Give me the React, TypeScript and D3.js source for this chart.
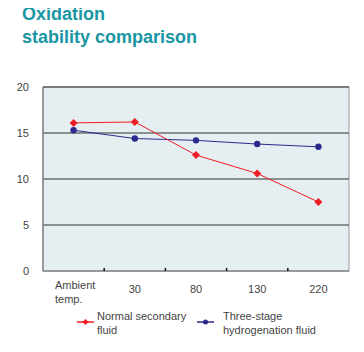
import React, { useRef, useEffect } from "react";
import * as d3 from "d3";

const categories = ["Ambient temp.", "30", "80", "130", "220"];
const normalFluid = [16.1, 16.2, 12.6, 10.6, 7.5];
const threeStageFluid = [15.3, 14.4, 14.2, 13.8, 13.5];
const yTicks = [0, 5, 10, 15, 20];

// square diamond (rotated square) path of half-diagonal r
const diamondPath = (r: number) => `M0,${-r}L${r},0L0,${r}L${-r},0Z`;

const App = () => {
  const ref = useRef<HTMLDivElement>(null);

  useEffect(() => {
    const width = 364;
    const height = 352;
    const left = 43;
    const right = 349;
    const top = 87;
    const bottom = 271;

    const root = d3.select(ref.current);
    root.selectAll("*").remove();
    const svg = root
      .append("svg")
      .attr("width", width)
      .attr("height", height)
      .style("display", "block")
      .style("font-family", "Arial, 'Liberation Sans', sans-serif");

    svg
      .append("text")
      .attr("x", 22)
      .attr("y", 20)
      .attr("fill", "#1996a4")
      .attr("font-size", 18)
      .attr("font-weight", "bold")
      .text("Oxidation");
    svg
      .append("text")
      .attr("x", 22)
      .attr("y", 43)
      .attr("fill", "#1996a4")
      .attr("font-size", 18)
      .attr("font-weight", "bold")
      .text("stability comparison");

    const x = d3.scaleBand().domain(categories).range([left, right]);
    const y = d3.scaleLinear().domain([0, 20]).range([bottom, top]);
    const cx = (i: number) => x(categories[i])! + x.bandwidth() / 2;

    svg
      .append("rect")
      .attr("x", left)
      .attr("y", top)
      .attr("width", right - left)
      .attr("height", bottom - top)
      .attr("fill", "#e5eef0")
      .attr("stroke", "#999")
      .attr("stroke-width", 1);

    svg
      .selectAll("line.grid")
      .data(yTicks.filter((t) => t > 0))
      .enter()
      .append("line")
      .attr("x1", left)
      .attr("x2", right)
      .attr("y1", (d) => y(d))
      .attr("y2", (d) => y(d))
      .attr("stroke", "#333")
      .attr("stroke-width", 1.2);

    // axes
    svg
      .append("line")
      .attr("x1", left)
      .attr("x2", left)
      .attr("y1", top)
      .attr("y2", bottom)
      .attr("stroke", "#888")
      .attr("stroke-width", 1.5);
    svg
      .append("line")
      .attr("x1", left)
      .attr("x2", right)
      .attr("y1", bottom)
      .attr("y2", bottom)
      .attr("stroke", "#888")
      .attr("stroke-width", 1.5);

    svg
      .selectAll("line.tick")
      .data(categories.slice(1))
      .enter()
      .append("line")
      .attr("x1", (d) => x(d)!)
      .attr("x2", (d) => x(d)!)
      .attr("y1", bottom - 3)
      .attr("y2", bottom)
      .attr("stroke", "#111")
      .attr("stroke-width", 1.5);

    svg
      .selectAll("text.ytick")
      .data(yTicks)
      .enter()
      .append("text")
      .attr("x", 29)
      .attr("y", (d) => y(d) + 4)
      .attr("text-anchor", "end")
      .attr("font-size", 11)
      .attr("fill", "#444")
      .text((d) => d);

    categories.forEach((c, i) => {
      if (i === 0) {
        c.split(" ").forEach((p, j) => {
          svg
            .append("text")
            .attr("x", 55)
            .attr("y", 289 + j * 14)
            .attr("font-size", 11)
            .attr("fill", "#444")
            .text(p);
        });
      } else {
        svg
          .append("text")
          .attr("x", cx(i))
          .attr("y", 293)
          .attr("text-anchor", "middle")
          .attr("font-size", 11)
          .attr("fill", "#444")
          .text(c);
      }
    });

    const line = d3
      .line<number>()
      .x((_, i) => cx(i))
      .y((d) => y(d));

    svg
      .append("path")
      .attr("d", line(threeStageFluid))
      .attr("fill", "none")
      .attr("stroke", "#2a2a8c")
      .attr("stroke-width", 1);
    svg
      .selectAll("circle.blue")
      .data(threeStageFluid)
      .enter()
      .append("circle")
      .attr("cx", (_, i) => cx(i))
      .attr("cy", (d) => y(d))
      .attr("r", 3.2)
      .attr("fill", "#2a2a8c");

    svg
      .append("path")
      .attr("d", line(normalFluid))
      .attr("fill", "none")
      .attr("stroke", "#ee1c25")
      .attr("stroke-width", 1);
    svg
      .selectAll("path.red")
      .data(normalFluid)
      .enter()
      .append("path")
      .attr("d", diamondPath(4))
      .attr("transform", (d, i) => `translate(${cx(i)},${y(d)})`)
      .attr("fill", "#ee1c25");

    // legend
    const legend = [
      { lines: ["Normal secondary", "fluid"], color: "#ee1c25", lx: 77, tx: 97, shape: "diamond" },
      { lines: ["Three-stage", "hydrogenation fluid"], color: "#2a2a8c", lx: 197, tx: 223, shape: "circle" },
    ];
    legend.forEach((l) => {
      svg
        .append("line")
        .attr("x1", l.lx)
        .attr("x2", l.lx + 17)
        .attr("y1", 322)
        .attr("y2", 322)
        .attr("stroke", l.color)
        .attr("stroke-width", 1.5);
      if (l.shape === "diamond") {
        svg
          .append("path")
          .attr("d", diamondPath(3))
          .attr("transform", `translate(${l.lx + 8.5},322)`)
          .attr("fill", l.color);
      } else {
        svg
          .append("circle")
          .attr("cx", l.lx + 8.5)
          .attr("cy", 322)
          .attr("r", 2.5)
          .attr("fill", l.color);
      }
      l.lines.forEach((t, j) => {
        svg
          .append("text")
          .attr("x", l.tx)
          .attr("y", 320 + j * 14)
          .attr("font-size", 11)
          .attr("fill", "#444")
          .text(t);
      });
    });

    return () => {
      root.selectAll("*").remove();
    };
  }, []);

  return <div ref={ref} style={{ margin: -8 }}></div>;
};

export default App;
